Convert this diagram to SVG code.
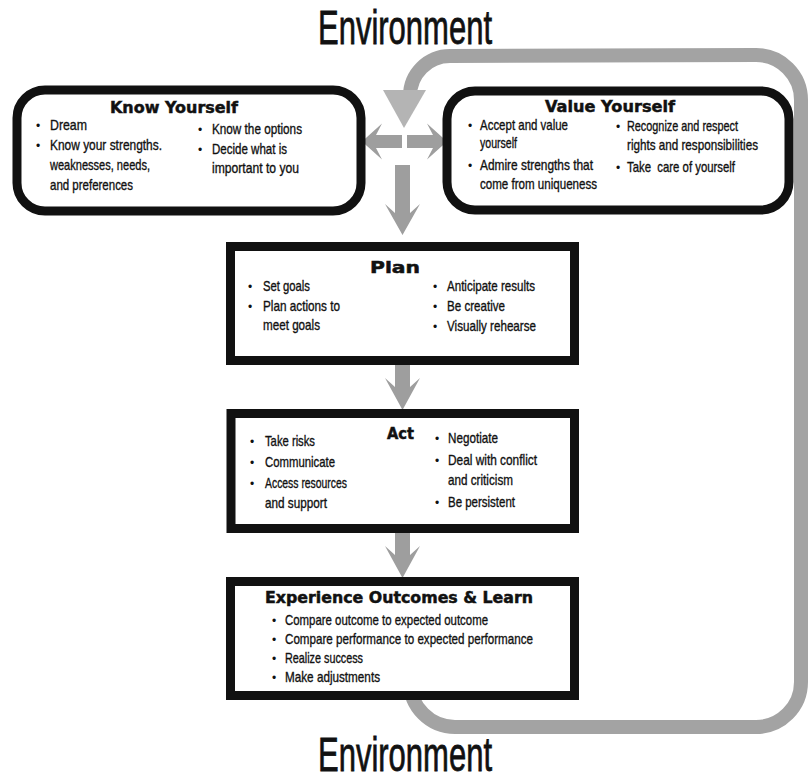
<svg xmlns="http://www.w3.org/2000/svg" width="810" height="780" viewBox="0 0 810 780">
<style>
.bg{fill:#ffffff}
.rbox{fill:#ffffff;stroke:#111111;stroke-width:9}
.loop{fill:none;stroke:#a3a3a3;stroke-width:14}
.arr{fill:#9e9e9e}
.tri{fill:#b4b4b4}
.env{font-family:"Liberation Sans Narrow","Liberation Sans",sans-serif;font-size:48px;fill:#111111;stroke:#111111;stroke-width:0.8}
.ttl{font-family:"DejaVu Sans","Liberation Sans",sans-serif;font-weight:bold;font-size:16px;fill:#111111;stroke:#111111;stroke-width:0.5}
.t{font-family:"Liberation Sans Narrow","Liberation Sans",sans-serif;font-size:15px;fill:#111111;stroke:#111111;stroke-width:0.35}
.b{font-family:"Liberation Sans",sans-serif;font-size:12px;fill:#111111;text-anchor:middle}
</style>
<rect class="bg" x="0" y="0" width="810" height="780"/>
<text class="env" x="318" y="44" textLength="174" lengthAdjust="spacingAndGlyphs">Environment</text>
<text class="env" x="318" y="771" textLength="174" lengthAdjust="spacingAndGlyphs">Environment</text>
<g id="connectors">
<path class="loop" d="M410,104 L410,96 A40,40 0 0 1 450,56 L756,55 A45,45 0 0 1 801,100 L801,682 A45,45 0 0 1 756,727 L455,727 A45,45 0 0 1 410,682 L410,690"/>
<polygon class="tri" points="383,90 426,90 404,128"/>
<polygon class="arr" points="362,141.5 382,123.5 376,135 402,135 402,148 376,148 382,159.5"/>
<polygon class="arr" points="447,141.5 427,123.5 433,135 407,135 407,148 433,148 427,159.5"/>
<polygon class="arr" points="395,165 410,165 410,213 420,204 402.5,235 385,204 395,213"/>
<polygon class="arr" points="395,365 410,365 410,387 420,378 402.5,410 385,378 395,387"/>
<polygon class="arr" points="395,533 410,533 410,555 420,546 402.5,578 385,546 395,555"/>
</g>
<g id="know-yourself">
<rect class="rbox" x="17" y="90" width="344" height="121" rx="28"/>
<text class="ttl" x="110" y="113" textLength="128" lengthAdjust="spacingAndGlyphs">Know Yourself</text>
<text class="b" x="38" y="130">•</text>
<text class="t" x="50" y="130" textLength="37" lengthAdjust="spacingAndGlyphs">Dream</text>
<text class="b" x="38" y="150">•</text>
<text class="t" x="50" y="150" textLength="112" lengthAdjust="spacingAndGlyphs">Know your strengths.</text>
<text class="t" x="50" y="170" textLength="100" lengthAdjust="spacingAndGlyphs">weaknesses, needs,</text>
<text class="t" x="50" y="190" textLength="83" lengthAdjust="spacingAndGlyphs">and preferences</text>
<text class="b" x="200" y="134">•</text>
<text class="t" x="212" y="134" textLength="90" lengthAdjust="spacingAndGlyphs">Know the options</text>
<text class="b" x="200" y="154">•</text>
<text class="t" x="212" y="154" textLength="75" lengthAdjust="spacingAndGlyphs">Decide what is</text>
<text class="t" x="212" y="173" textLength="87" lengthAdjust="spacingAndGlyphs">important to you</text>
</g>
<g id="value-yourself">
<rect class="rbox" x="447" y="91" width="342" height="119" rx="28"/>
<text class="ttl" x="545" y="112" textLength="130" lengthAdjust="spacingAndGlyphs">Value Yourself</text>
<text class="b" x="470" y="130">•</text>
<text class="t" x="480" y="130" textLength="88" lengthAdjust="spacingAndGlyphs">Accept and value</text>
<text class="t" x="480" y="148" textLength="37" lengthAdjust="spacingAndGlyphs">yourself</text>
<text class="b" x="470" y="170">•</text>
<text class="t" x="480" y="170" textLength="113" lengthAdjust="spacingAndGlyphs">Admire strengths that</text>
<text class="t" x="480" y="189" textLength="117" lengthAdjust="spacingAndGlyphs">come from uniqueness</text>
<text class="b" x="618" y="131">•</text>
<text class="t" x="627" y="131" textLength="111" lengthAdjust="spacingAndGlyphs">Recognize and respect</text>
<text class="t" x="627" y="150" textLength="131" lengthAdjust="spacingAndGlyphs">rights and responsibilities</text>
<text class="b" x="618" y="172">•</text>
<text class="t" x="627" y="172" textLength="108" lengthAdjust="spacingAndGlyphs">Take&#160; care of yourself</text>
</g>
<g id="plan">
<rect class="rbox" x="230.5" y="246.5" width="344" height="114"/>
<text class="ttl" x="370" y="273" textLength="50" lengthAdjust="spacingAndGlyphs">Plan</text>
<text class="b" x="250" y="291">•</text>
<text class="t" x="263" y="291" textLength="47" lengthAdjust="spacingAndGlyphs">Set goals</text>
<text class="b" x="250" y="311">•</text>
<text class="t" x="263" y="311" textLength="77" lengthAdjust="spacingAndGlyphs">Plan actions to</text>
<text class="t" x="263" y="330" textLength="57" lengthAdjust="spacingAndGlyphs">meet goals</text>
<text class="b" x="435" y="291">•</text>
<text class="t" x="447" y="291" textLength="88" lengthAdjust="spacingAndGlyphs">Anticipate results</text>
<text class="b" x="435" y="311">•</text>
<text class="t" x="447" y="311" textLength="58" lengthAdjust="spacingAndGlyphs">Be creative</text>
<text class="b" x="435" y="331">•</text>
<text class="t" x="447" y="331" textLength="89" lengthAdjust="spacingAndGlyphs">Visually rehearse</text>
</g>
<g id="act">
<rect class="rbox" x="231" y="413.5" width="343.5" height="115"/>
<text class="ttl" x="387" y="439" textLength="27" lengthAdjust="spacingAndGlyphs">Act</text>
<text class="b" x="252" y="446">•</text>
<text class="t" x="265" y="446" textLength="50" lengthAdjust="spacingAndGlyphs">Take risks</text>
<text class="b" x="252" y="467">•</text>
<text class="t" x="265" y="467" textLength="70" lengthAdjust="spacingAndGlyphs">Communicate</text>
<text class="b" x="252" y="488">•</text>
<text class="t" x="265" y="488" textLength="82" lengthAdjust="spacingAndGlyphs">Access resources</text>
<text class="t" x="265" y="508" textLength="62" lengthAdjust="spacingAndGlyphs">and support</text>
<text class="b" x="437" y="443">•</text>
<text class="t" x="448" y="443" textLength="50" lengthAdjust="spacingAndGlyphs">Negotiate</text>
<text class="b" x="437" y="465">•</text>
<text class="t" x="448" y="465" textLength="89" lengthAdjust="spacingAndGlyphs">Deal with conflict</text>
<text class="t" x="448" y="485" textLength="65" lengthAdjust="spacingAndGlyphs">and criticism</text>
<text class="b" x="437" y="507">•</text>
<text class="t" x="448" y="507" textLength="67" lengthAdjust="spacingAndGlyphs">Be persistent</text>
</g>
<g id="experience">
<rect class="rbox" x="230.5" y="581.5" width="344" height="114"/>
<text class="ttl" x="265" y="603" textLength="268" lengthAdjust="spacingAndGlyphs">Experience Outcomes &amp; Learn</text>
<text class="b" x="274" y="625">•</text>
<text class="t" x="285" y="625" textLength="203" lengthAdjust="spacingAndGlyphs">Compare outcome to expected outcome</text>
<text class="b" x="274" y="644">•</text>
<text class="t" x="285" y="644" textLength="248" lengthAdjust="spacingAndGlyphs">Compare performance to expected performance</text>
<text class="b" x="274" y="663">•</text>
<text class="t" x="285" y="663" textLength="78" lengthAdjust="spacingAndGlyphs">Realize success</text>
<text class="b" x="274" y="682">•</text>
<text class="t" x="285" y="682" textLength="95" lengthAdjust="spacingAndGlyphs">Make adjustments</text>
</g>
</svg>
